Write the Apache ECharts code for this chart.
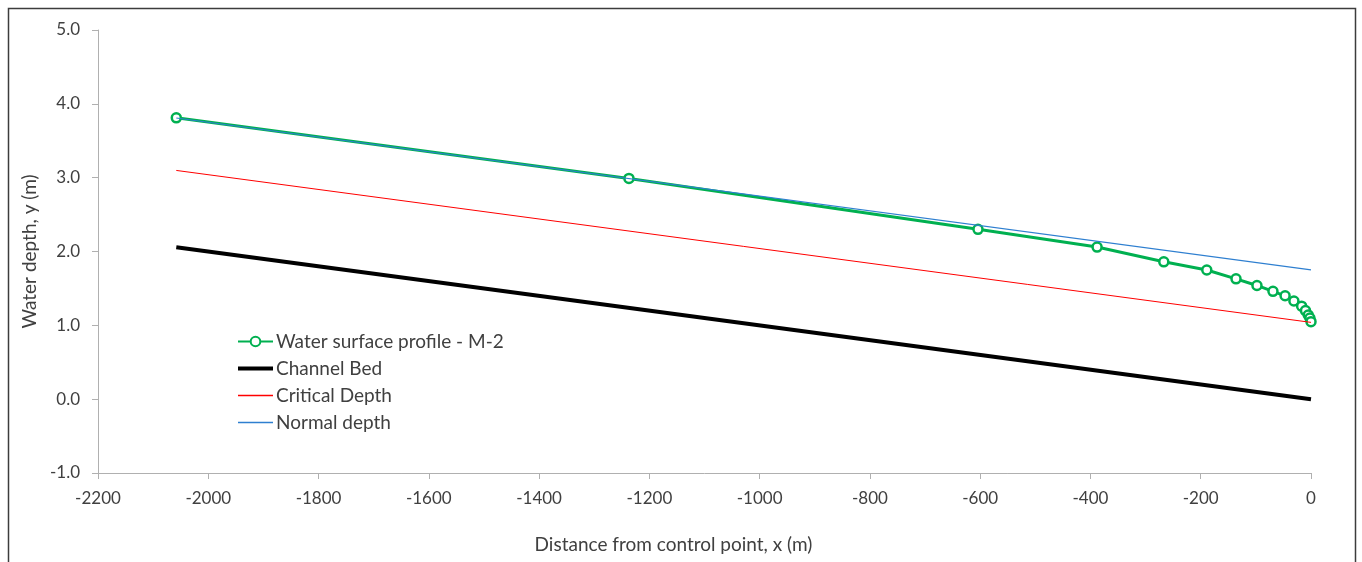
<!DOCTYPE html>
<html>
<head>
<meta charset="utf-8">
<script src="https://cdn.jsdelivr.net/npm/echarts@6/dist/echarts.min.js"></script>
<style>
  html, body { margin: 0; padding: 0; background: #fff; }
  #chart { width: 1362px; height: 562px; }
</style>
</head>
<body>
<div id="chart"></div>
<script>
// water surface profile (M-2), distance x (m) and depth y (m)
var profileX = [-2058, -1237, -604, -388, -267, -189, -136, -98, -69, -47, -31, -17, -10, -5, -2, 0];
var profileY = [3.81, 2.99, 2.30, 2.06, 1.86, 1.75, 1.63, 1.54, 1.46, 1.40, 1.33, 1.26, 1.20, 1.14, 1.10, 1.05];

// straight reference lines, two end points each
var lineX = [-2058, 0];
var bedY = [2.058, 0];
var criticalY = [3.098, 1.04];
var normalY = [3.808, 1.75];

var xTicks = { min: -2200, max: 0, step: 200 };
var yTicks = { min: -1, max: 5, step: 1 };

function pairs(xs, ys) {
    var out = [];
    for (var i = 0; i < xs.length; i++) out.push([xs[i], ys[i]]);
    return out;
}

var font = 'Lato';
var textColor = '#404040';
var axisColor = '#b0b0b0';

// flat bar icons for the plain line entries of the legend
var thickBar = 'path://M0,0 L35,0 L35,4 L0,4 Z';
var thinBar = 'path://M0,0 L35,0 L35,1.3 L0,1.3 Z';

var chart = echarts.init(document.getElementById('chart'));

var option = {
    animation: false,
    backgroundColor: '#fff',
    textStyle: { fontFamily: font },
    graphic: [{
        type: 'rect',
        left: 6, top: 6,
        shape: { width: 1347, height: 570 },
        style: { fill: 'none', stroke: '#3c3c3c', lineWidth: 1.5 },
        silent: true
    }],
    grid: { left: 98, right: 51, top: 30, bottom: 89 },
    legend: {
        orient: 'vertical',
        left: 237,
        top: 332,
        padding: 0,
        itemWidth: 35,
        itemHeight: 12,
        itemGap: 8,
        textStyle: { fontFamily: font, fontSize: 19, color: textColor, padding: [0, 0, 0, -2] },
        data: [
            { name: 'Water surface profile - M-2' },
            { name: 'Channel Bed', icon: thickBar },
            { name: 'Critical Depth', icon: thinBar },
            { name: 'Normal depth', icon: thinBar }
        ]
    },
    xAxis: {
        type: 'value',
        min: xTicks.min,
        max: xTicks.max,
        interval: xTicks.step,
        name: 'Distance from control point, x (m)',
        nameLocation: 'middle',
        nameGap: 62,
        nameTextStyle: { fontFamily: font, fontSize: 19, color: textColor, padding: [0, 62, 0, 0] },
        axisLine: { onZero: false, lineStyle: { color: axisColor, width: 1 } },
        axisTick: { show: true, inside: false, length: 6, lineStyle: { color: axisColor } },
        axisLabel: {
            fontFamily: font, fontSize: 17, color: textColor, margin: 17,
            formatter: function (v) { return String(v); }
        },
        splitLine: { show: false }
    },
    yAxis: {
        type: 'value',
        min: yTicks.min,
        max: yTicks.max,
        interval: yTicks.step,
        name: 'Water depth, y (m)',
        nameLocation: 'middle',
        nameGap: 58,
        nameTextStyle: { fontFamily: font, fontSize: 19, color: textColor },
        axisLine: { show: true, onZero: false, lineStyle: { color: axisColor, width: 1 } },
        axisTick: { show: true, inside: false, length: 6, lineStyle: { color: axisColor } },
        axisLabel: {
            fontFamily: font, fontSize: 17, color: textColor, margin: 18,
            formatter: function (v) { return v.toFixed(1); }
        },
        splitLine: { show: false }
    },
    series: [
        {
            name: 'Water surface profile - M-2',
            type: 'line',
            data: pairs(profileX, profileY),
            symbol: 'circle',
            symbolSize: 9,
            showSymbol: true,
            lineStyle: { color: '#00b050', width: 3 },
            itemStyle: { color: '#ffffff', borderColor: '#00b050', borderWidth: 2.5 },
            z: 2
        },
        {
            name: 'Channel Bed',
            type: 'line',
            data: pairs(lineX, bedY),
            symbol: 'none',
            lineStyle: { color: '#000000', width: 4 },
            itemStyle: { color: '#000000' }
        },
        {
            name: 'Critical Depth',
            type: 'line',
            data: pairs(lineX, criticalY),
            symbol: 'none',
            lineStyle: { color: '#ff0000', width: 1 },
            itemStyle: { color: '#ff0000' }
        },
        {
            name: 'Normal depth',
            type: 'line',
            data: pairs(lineX, normalY),
            symbol: 'none',
            lineStyle: { color: '#2e7fd0', width: 1.2 },
            itemStyle: { color: '#2e7fd0' },
            z: 3
        }
    ]
};

chart.setOption(option);
</script>
</body>
</html>
